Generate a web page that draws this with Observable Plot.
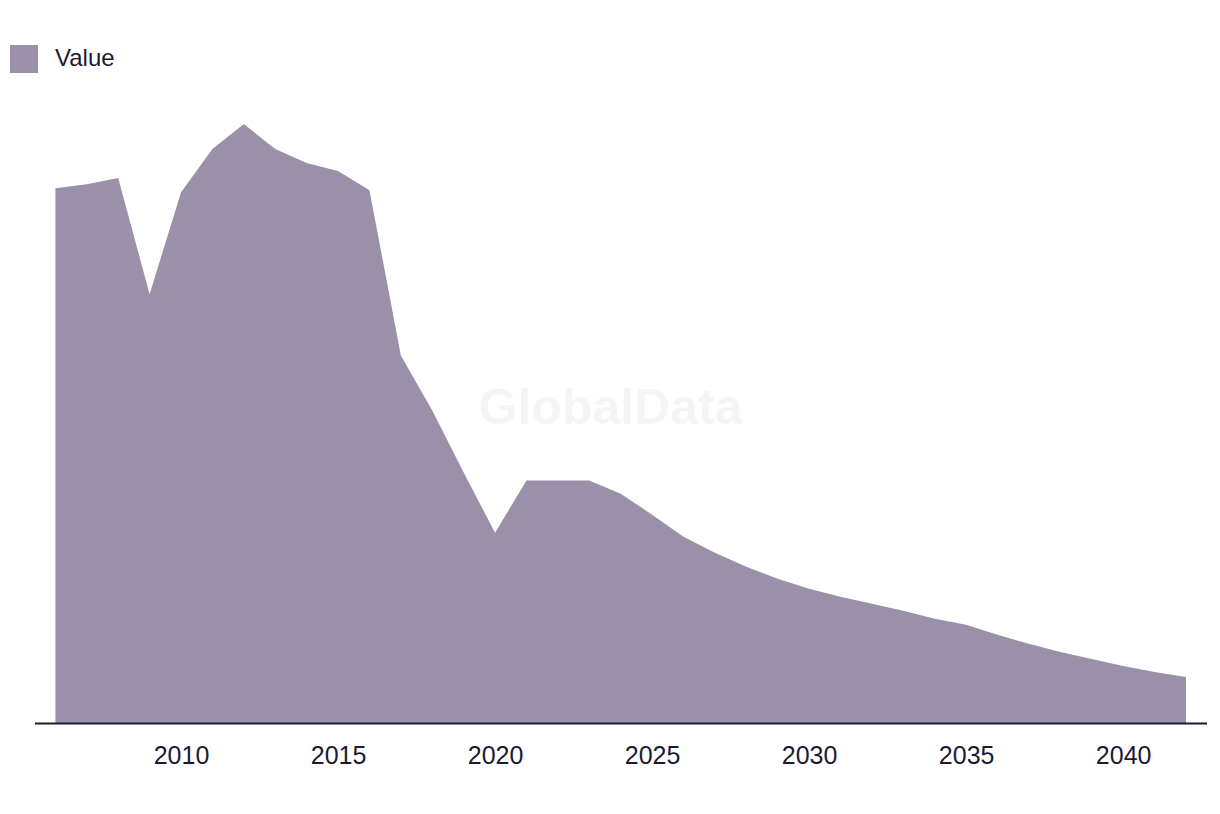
<!DOCTYPE html>
<html>
<head>
<meta charset="utf-8">
<script src="https://cdn.jsdelivr.net/npm/d3@7"></script>
<script src="https://cdn.jsdelivr.net/npm/@observablehq/plot@0.6"></script>
<style>
  html, body { margin: 0; padding: 0; background: #fff; }
  body { width: 1220px; height: 814px; overflow: hidden; font-family: "Liberation Sans", Arial, sans-serif; color: #1c1a33; }
  #legend { height: 90px; box-sizing: border-box; padding-top: 45px; padding-left: 10px; display: flex; align-items: flex-start; }
  #legend .sw { width: 28px; height: 28px; background: #9a90a9; }
  #legend .lb { margin-left: 17px; font-size: 24px; line-height: 26px; }
</style>
</head>
<body>
<div id="legend"><div class="sw"></div><div class="lb">Value</div></div>
<div id="chart"></div>
<script>
const years = [2006,2007,2008,2009,2010,2011,2012,2013,2014,2015,2016,2017,2018,2019,2020,2021,2022,2023,2024,2025,2026,2027,2028,2029,2030,2031,2032,2033,2034,2035,2036,2037,2038,2039,2040,2041,2042];
const values = [53.4,53.8,54.4,42.8,53.0,57.3,59.8,57.3,55.9,55.1,53.2,36.7,31.2,25.0,19.0,24.2,24.2,24.2,22.9,20.8,18.6,17.0,15.6,14.4,13.4,12.6,11.9,11.2,10.4,9.8,8.8,7.9,7.1,6.4,5.7,5.1,4.6];
const tickYears = [2010,2015,2020,2025,2030,2035,2040];
const seriesName = "Value";
const watermark = "GlobalData";

const data = years.map((y, i) => ({year: y, value: values[i], series: seriesName}));

const chart = Plot.plot({
  width: 1220,
  height: 724,
  marginLeft: 35,
  marginRight: 13,
  marginTop: 12,
  marginBottom: 91,
  style: {fontFamily: "'Liberation Sans', Arial, sans-serif", fontSize: "25px", color: "#1c1a33", background: "transparent"},
  x: {domain: [2005.35, 2042.67], ticks: tickYears, tickFormat: d => String(d), tickSize: 0, tickPadding: 23, label: null},
  y: {domain: [0, 62], axis: null},
  marks: [
    Plot.areaY(data, {x: "year", y: "value", fill: "#9a90a9"}),
    Plot.text([watermark], {frameAnchor: "middle", dx: -11, dy: -5, fontSize: 50, fontWeight: "bold", fill: "#000", fillOpacity: 0.04, fontFamily: "'Liberation Sans', Arial, sans-serif"}),
    Plot.ruleY([0], {stroke: "#1c1a33", strokeWidth: 2})
  ]
});
document.getElementById("chart").appendChild(chart);
</script>
</body>
</html>
